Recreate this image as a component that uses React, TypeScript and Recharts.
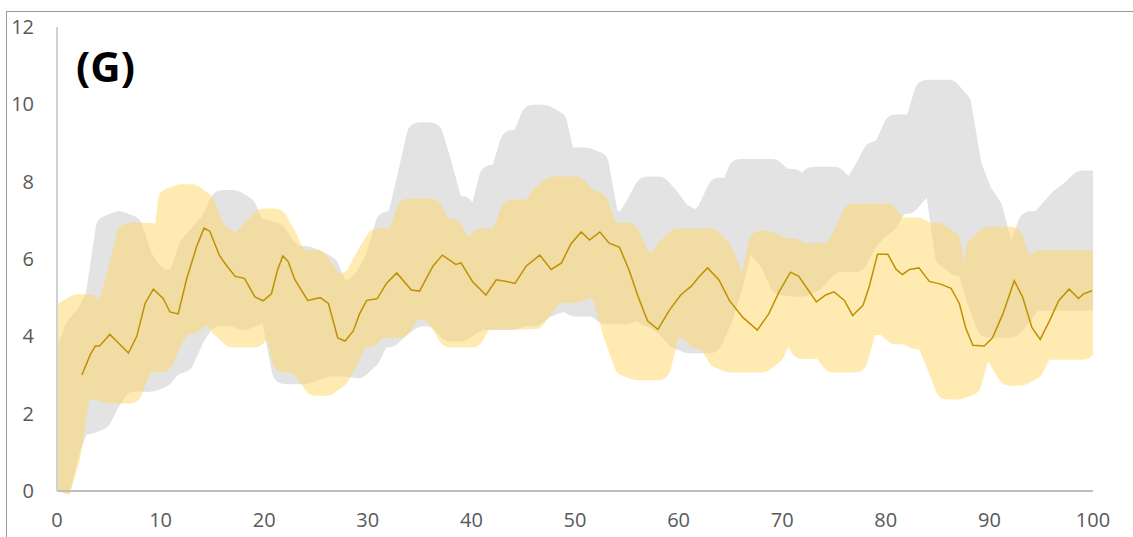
import { ComposedChart, Area, Line, XAxis, YAxis } from 'recharts';

// x positions of the two wide bands (one reading per unit)
const bandX = Array.from({ length: 101 }, (_, i) => i);

// grey band: upper / lower centre of the stroke
const greyHi = [
  2.8, 3.5, 4.2, 4.5, 5.0, 6.8, 6.9, 6.8, 6.0, 5.6,
  5.4, 5.4, 5.5, 6.3, 6.6, 6.9, 7.45, 7.45, 7.3, 6.7,
  6.7, 6.6, 6.2, 6.0, 6.0, 5.9, 5.75, 5.1, 5.1, 5.2,
  5.5, 6.0, 6.9, 6.9, 8.0, 9.2, 9.2, 8.3, 7.3, 7.3,
  6.0, 7.05, 8.1, 8.1, 9.0, 9.0, 9.65, 9.65, 9.5, 8.3,
  8.55, 8.55, 8.45, 7.0, 6.9, 6.9, 7.3, 7.8, 7.8, 7.5,
  7.13, 7.0, 6.9, 7.2, 7.77, 7.6, 8.25, 8.25, 8.25, 8.25,
  8.0, 8.0, 7.1, 8.05, 8.05, 8.05, 7.77, 7.77, 8.2, 8.7,
  8.8, 9.4, 9.4, 9.4, 10.3, 10.3, 10.3, 10.0, 8.4, 7.7,
  7.3, 6.3, 6.15, 6.15, 6.9, 6.9, 7.2, 7.5, 7.7, 7.95,
  7.95,
];
const greyLo = [
  0, 1.1, 1.8, 1.8, 1.9, 2.4, 2.8, 2.9, 2.9, 2.9,
  3.0, 3.3, 3.4, 4.0, 4.4, 4.6, 4.6, 4.6, 4.5, 4.6,
  4.7, 4.5, 3.1, 3.1, 3.1, 3.2, 3.3, 3.3, 3.3, 3.25,
  3.5, 4.05, 4.05, 4.3, 4.5, 4.6, 4.6, 4.5, 4.2, 4.2,
  4.4, 4.5, 4.5, 4.5, 4.5, 4.6, 4.6, 4.8, 4.9, 5.0,
  4.85, 4.85, 4.85, 4.65, 4.65, 4.65, 4.8, 4.6, 4.5, 4.3,
  4.0, 3.9, 3.9, 3.9, 4.5, 5.36, 6.5, 7.5, 6.3, 6.0,
  5.4, 5.36, 5.36, 5.5, 5.8, 6.0, 6.0, 6.0, 6.5, 6.8,
  7.0, 7.5, 7.5, 7.8, 8.0, 8.0, 6.1, 5.9, 5.9, 5.0,
  4.3, 4.3, 4.3, 4.6, 5.0, 5.0, 5.0, 5.0, 5.0, 5.0,
  5.0,
];

// yellow band
const yellowHi = [
  4.1, 4.6, 4.75, 4.75, 4.5, 4.6, 5.5, 6.6, 6.6, 6.6,
  5.2, 7.5, 7.6, 7.6, 7.4, 6.7, 6.5, 6.3, 6.4, 6.7,
  6.97, 6.97, 6.5, 5.9, 5.9, 5.9, 5.5, 5.2, 5.3, 5.5,
  6.0, 6.45, 6.45, 6.45, 7.23, 7.23, 7.23, 6.7, 6.7, 6.17,
  6.17, 6.45, 6.45, 6.45, 7.2, 7.2, 7.2, 7.6, 7.8, 7.8,
  7.8, 7.5, 7.4, 6.6, 6.6, 6.6, 6.0, 5.8, 5.8, 6.2,
  6.45, 6.45, 6.45, 6.45, 6.17, 5.5, 5.3, 5.1, 6.4, 6.35,
  6.2, 6.2, 6.08, 6.08, 6.08, 6.08, 6.5, 7.1, 7.1, 7.1,
  7.1, 6.74, 6.74, 6.74, 6.6, 6.6, 6.4, 4.3, 4.3, 6.26,
  6.5, 6.5, 6.5, 5.73, 5.73, 5.9, 5.9, 5.9, 5.9, 5.9,
  5.9,
];
const yellowLo = [
  0, 0.9, 2.6, 2.7, 2.7, 2.6, 2.6, 2.6, 3.3, 3.4,
  3.4, 4.0, 4.4, 4.4, 4.65, 4.65, 4.3, 4.05, 4.05, 4.05,
  4.3, 4.65, 3.4, 3.4, 3.2, 2.8, 2.8, 3.0, 3.5, 4.05,
  4.05, 4.3, 4.3, 4.3, 4.75, 4.75, 4.75, 4.5, 4.05, 4.05,
  4.05, 4.52, 4.52, 4.52, 4.52, 4.52, 4.52, 4.9, 5.2, 5.2,
  5.2, 5.3, 5.45, 5.0, 4.05, 3.3, 3.2, 3.2, 3.2, 4.3,
  4.3, 4.3, 4.0, 3.96, 3.5, 3.4, 3.4, 3.4, 3.4, 3.6,
  4.2, 4.2, 3.75, 3.75, 3.75, 3.4, 3.4, 3.4, 4.37, 4.37,
  4.37, 4.13, 4.13, 4.0, 4.0, 3.4, 2.7, 2.7, 2.8, 3.8,
  3.8, 3.5, 3.06, 3.06, 3.2, 3.73, 3.73, 3.73, 3.73, 3.73,
  4.6,
];

// thin moving-average line
const trendX = [
  2.4, 3.2, 3.7, 4.1, 4.8, 5.1, 6.9, 7.7, 8.5, 9.3, 10.25, 10.9, 11.7, 12.5, 13.5,
  14.2, 14.75, 15.7, 16.4, 17.2, 18.1, 19.1, 19.9, 20.7, 21.3, 21.8, 22.3, 22.95,
  24.2, 25.4, 26.2, 27.1, 27.8, 28.6, 29.2, 29.9, 30.9, 31.8, 32.8, 34.2, 35.0,
  36.3, 37.2, 38.5, 39.0, 40.1, 41.4, 42.4, 43.4, 44.2, 45.3, 46.6, 47.7, 48.7,
  49.6, 50.6, 51.4, 52.4, 53.3, 54.3, 55.2, 56.1, 57.0, 58.0, 59.1, 60.2, 61.2,
  62.0, 62.8, 63.9, 64.9, 66.2, 67.6, 68.7, 69.7, 70.8, 71.6, 73.3, 74.2, 75.0,
  76.0, 76.8, 77.8, 78.4, 79.2, 80.2, 81.0, 81.6, 82.3, 83.2, 84.2, 85.3, 86.3,
  87.1, 87.7, 88.4, 89.5, 90.3, 91.3, 92.4, 93.2, 94.1, 94.9, 95.8, 96.7, 97.7,
  98.6, 99.1, 99.9,
];
const trendY = [
  3.0, 3.52, 3.75, 3.75, 3.96, 4.05, 3.57, 4.0, 4.85, 5.22, 4.98, 4.63, 4.58, 5.47, 6.34,
  6.8, 6.72, 6.08, 5.82, 5.55, 5.5, 5.02, 4.92, 5.1, 5.73, 6.08, 5.94, 5.47,
  4.93, 5.0, 4.85, 3.96, 3.88, 4.14, 4.58, 4.93, 4.97, 5.37, 5.64, 5.2, 5.17,
  5.82, 6.1, 5.86, 5.9, 5.42, 5.07, 5.46, 5.42, 5.37, 5.82, 6.1, 5.73, 5.9,
  6.39, 6.7, 6.49, 6.7, 6.41, 6.3, 5.73, 5.02, 4.4, 4.18, 4.67, 5.07, 5.29,
  5.55, 5.77, 5.46, 4.93, 4.49, 4.16, 4.58, 5.15, 5.66, 5.55, 4.89, 5.07, 5.15,
  4.93, 4.54, 4.8, 5.29, 6.12, 6.12, 5.73, 5.6, 5.73, 5.77, 5.42, 5.35, 5.24,
  4.85, 4.23, 3.77, 3.75, 3.96, 4.58, 5.44, 5.02, 4.23, 3.92, 4.4, 4.93, 5.22,
  4.98, 5.1, 5.18,
];

const xTicks = [0, 10, 20, 30, 40, 50, 60, 70, 80, 90, 100];
const yTicks = [0, 2, 4, 6, 8, 10, 12];

const greyData = bandX.map((x, i) => ({ x, lo: greyLo[i], hi: greyHi[i] }));
const yellowData = bandX.map((x, i) => ({ x, lo: yellowLo[i], hi: yellowHi[i] }));
const trendData = trendX.map((x, i) => ({ x, v: trendY[i] }));

const BAND_WIDTH = 26;
const tickStyle = { fill: '#595959', fontSize: 20, fontFamily: 'Open Sans' };

export default function App() {
  return (
    <div
      style={{
        position: 'absolute',
        left: 0,
        top: 0,
        width: 1133,
        height: 537,
        overflow: 'hidden',
        background: '#fff',
      }}
    >
      <style>{`.band-yellow { opacity: 0.5; }`}</style>
      {/* outer frame, cut off at the right and bottom */}
      <div
        style={{
          position: 'absolute',
          left: 6,
          top: 11,
          width: 1200,
          height: 600,
          borderTop: '1px solid #9a9a9a',
          borderLeft: '1px solid #9a9a9a',
        }}
      />
      <ComposedChart
        width={1133}
        height={537}
        margin={{ top: 27, right: 40, bottom: 0, left: 0 }}
        style={{ position: 'absolute', left: 0, top: 0 }}
      >
        <XAxis
          type="number"
          dataKey="x"
          domain={[0, 100]}
          ticks={xTicks}
          height={46}
          allowDataOverflow
          axisLine={{ stroke: '#bfbfbf', strokeWidth: 2 }}
          tickLine={false}
          tickSize={0}
          tickMargin={22}
          tick={tickStyle}
          allowDuplicatedCategory={false}
        />
        <YAxis
          type="number"
          domain={[0, 12]}
          ticks={yTicks}
          width={57}
          axisLine={{ stroke: '#d0d0d0', strokeWidth: 2 }}
          tickLine={false}
          tickSize={0}
          tickMargin={23}
          tick={tickStyle}
        />
        <Area
          data={greyData}
          dataKey={(d: { lo: number; hi: number }) => [d.lo, d.hi]}
          type="linear"
          fill="#e3e3e3"
          fillOpacity={1}
          stroke="#e3e3e3"
          strokeWidth={BAND_WIDTH}
          strokeLinejoin="round"
          dot={false}
          activeDot={false}
          isAnimationActive={false}
        />
        <Area
          className="band-yellow"
          data={yellowData}
          dataKey={(d: { lo: number; hi: number }) => [d.lo, d.hi]}
          type="linear"
          fill="#ffd966"
          fillOpacity={1}
          stroke="#ffd966"
          strokeWidth={BAND_WIDTH}
          strokeLinejoin="round"
          dot={false}
          activeDot={false}
          isAnimationActive={false}
        />
        <Line
          data={trendData}
          dataKey="v"
          type="linear"
          stroke="#bf9000"
          strokeWidth={1.5}
          dot={false}
          activeDot={false}
          isAnimationActive={false}
        />
      </ComposedChart>
      <div
        style={{
          position: 'absolute',
          left: 76,
          top: 38,
          fontFamily: 'Open Sans',
          fontWeight: 700,
          fontSize: 42,
          lineHeight: '56px',
          color: '#000',
        }}
      >
        (G)
      </div>
    </div>
  );
}
